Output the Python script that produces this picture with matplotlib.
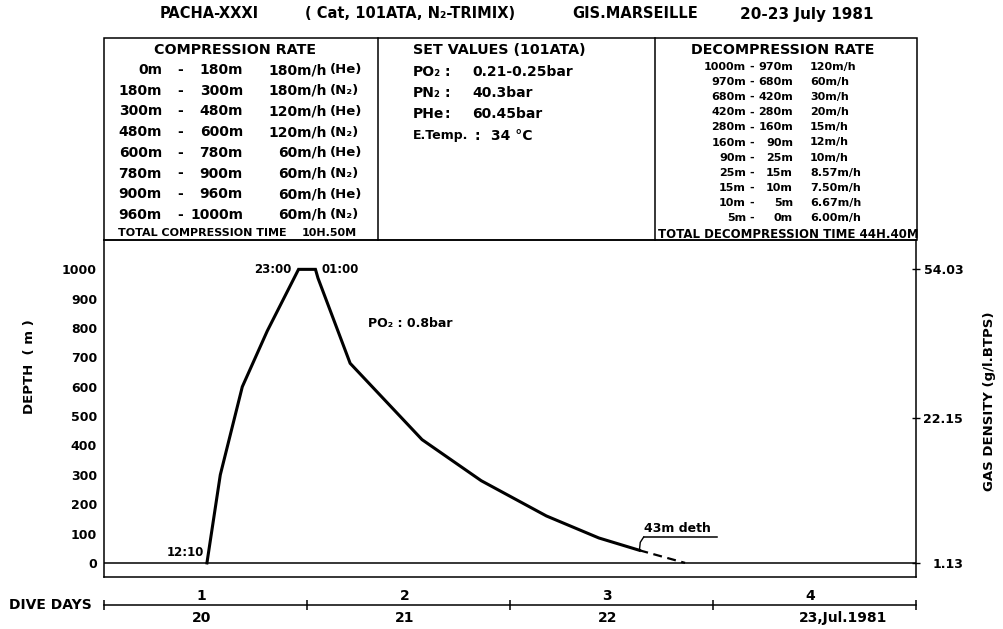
import matplotlib
matplotlib.use('Agg')
import matplotlib.pyplot as plt
from matplotlib.patches import Rectangle

plt.rcParams['font.family'] = ['DejaVu Sans']
plt.rcParams['font.weight'] = 'bold'

# ---- dive profile (hours from 00:00, 20 July) ----
profile_hours = [12.17, 13.75, 16.35, 19.3, 23.0, 25.0, 25.3, 29.1, 37.6, 44.6, 52.3, 58.5, 63.3]
profile_depth = [0, 300, 600, 790, 1000, 1000, 970, 680, 420, 280, 160, 85, 43]
final_hours = [63.3, 68.7]
final_depth = [43, 0]

depth_ticks = [0, 100, 200, 300, 400, 500, 600, 700, 800, 900, 1000]
density_pos = [1000, 495, 0]
density_labels = ['54.03', '22.15', '1.13']

day_edges = [0, 24, 48, 72, 96]
day_numbers = ['1', '2', '3', '4']
day_dates = ['20', '21', '22', '23,Jul.1981']

# ---- table contents ----
comp_from = ['0m', '180m', '300m', '480m', '600m', '780m', '900m', '960m']
comp_to = ['180m', '300m', '480m', '600m', '780m', '900m', '960m', '1000m']
comp_rate = ['180m/h', '180m/h', '120m/h', '120m/h', '60m/h', '60m/h', '60m/h', '60m/h']
comp_gas = ['(He)', '(N₂)', '(He)', '(N₂)', '(He)', '(N₂)', '(He)', '(N₂)']
comp_total = '10H.50M'

set_names = ['PO₂', 'PN₂', 'PHe', 'E.Temp.']
set_values = ['0.21-0.25bar', '40.3bar', '60.45bar', '34 °C']

deco_from = ['1000m', '970m', '680m', '420m', '280m', '160m', '90m', '25m', '15m', '10m', '5m']
deco_to = ['970m', '680m', '420m', '280m', '160m', '90m', '25m', '15m', '10m', '5m', '0m']
deco_rate = ['120m/h', '60m/h', '30m/h', '20m/h', '15m/h', '12m/h', '10m/h',
             '8.57m/h', '7.50m/h', '6.67m/h', '6.00m/h']
deco_total = '44H.40M'

W, H = 1004, 629
fig = plt.figure(figsize=(W / 100, H / 100), dpi=100)

# overlay in pixel coordinates for header / table
ax_px = fig.add_axes([0, 0, 1, 1])
ax_px.set_xlim(0, W)
ax_px.set_ylim(H, 0)
ax_px.axis('off')

# header
ax_px.text(160, 14, 'PACHA-XXXI', fontsize=10.5, va='center')
ax_px.text(305, 14, '( Cat, 101ATA, N₂-TRIMIX)', fontsize=10.5, va='center')
ax_px.text(572, 14, 'GIS.MARSEILLE', fontsize=10.5, va='center')
ax_px.text(740, 14, '20-23 July 1981', fontsize=11, va='center')

# table frame
ax_px.add_patch(Rectangle((104, 38), 813, 202, fill=False, lw=1.1, ec='black'))
ax_px.plot([378, 378], [38, 240], color='black', lw=1.1)
ax_px.plot([655, 655], [38, 240], color='black', lw=1.1)

# compression column
ax_px.text(235, 50.5, 'COMPRESSION RATE', fontsize=10.3, ha='center', va='center')
for i in range(len(comp_from)):
    y = 70 + i * 20.7
    ax_px.text(162, y, comp_from[i], fontsize=10, ha='right', va='center')
    ax_px.text(180, y, '-', fontsize=10, ha='center', va='center')
    ax_px.text(243, y, comp_to[i], fontsize=10, ha='right', va='center')
    ax_px.text(327, y, comp_rate[i], fontsize=10, ha='right', va='center')
    ax_px.text(330, y, comp_gas[i], fontsize=9.5, ha='left', va='center')
ax_px.text(118, 233, 'TOTAL COMPRESSION TIME', fontsize=8, va='center')
ax_px.text(302, 233, comp_total, fontsize=8, va='center')

# set values column
ax_px.text(413, 50, 'SET VALUES (101ATA)', fontsize=10.3, va='center')
name_size = [10, 10, 10, 9]
colon_x = [447, 447, 447, 477]
value_x = [472, 472, 472, 491]
for i in range(len(set_names)):
    y = 71.7 + i * 21.3
    ax_px.text(413, y, set_names[i], fontsize=name_size[i], va='center')
    ax_px.text(colon_x[i], y, ':', fontsize=10, ha='center', va='center')
    ax_px.text(value_x[i], y, set_values[i], fontsize=10, va='center')

# decompression column
ax_px.text(783, 50.5, 'DECOMPRESSION RATE', fontsize=10.3, ha='center', va='center')
for i in range(len(deco_from)):
    y = 67 + i * 15.1
    ax_px.text(746, y, deco_from[i], fontsize=8, ha='right', va='center')
    ax_px.text(752, y, '-', fontsize=8, ha='center', va='center')
    ax_px.text(793, y, deco_to[i], fontsize=8, ha='right', va='center')
    ax_px.text(810, y, deco_rate[i], fontsize=8, ha='left', va='center')
ax_px.text(658, 235, 'TOTAL DECOMPRESSION TIME ' + deco_total, fontsize=8.5, va='center')

# axis titles / dive days label
ax_px.text(30, 367, 'DEPTH  ( m )', fontsize=9.5, rotation=90, ha='center', va='center')
ax_px.text(990, 401, 'GAS DENSITY (g/l.BTPS)', fontsize=9.5, rotation=90, ha='center', va='center')
ax_px.text(9, 605, 'DIVE DAYS', fontsize=10, va='center')

# ---- main profile axes ----
left, right, top, bottom = 104, 916, 240, 577
ax = fig.add_axes([left / W, 1 - bottom / H, (right - left) / W, (bottom - top) / H])
ax.set_facecolor('none')
ax.set_xlim(0, 96)
ax.set_ylim(-48, 1100)
for s in ax.spines.values():
    s.set_linewidth(1.1)
ax.set_xticks([])
ax.set_yticks(depth_ticks)
ax.tick_params(axis='y', length=0, pad=5, labelsize=9)

ax.axhline(0, color='black', lw=1.1)
ax.plot(profile_hours, profile_depth, color='black', lw=2.2, solid_joinstyle='miter')
ax.plot(final_hours, final_depth, color='black', lw=1.6, ls=(0, (4, 2.5)))

ax.text(11.8, 37, '12:10', fontsize=8.5, ha='right', va='center')
ax.text(22.2, 1000, '23:00', fontsize=8.5, ha='right', va='center')
ax.text(25.7, 1000, '01:00', fontsize=8.5, ha='left', va='center')
ax.text(31.2, 814, 'PO₂ : 0.8bar', fontsize=9, ha='left', va='center')

ax.plot([final_hours[0], 63.4, 63.8], [final_depth[0], 70, 88], color='black', lw=1)
ax.plot([63.8, 72.5], [88, 88], color='black', lw=1.1)
ax.text(63.8, 95, '43m deth', fontsize=9, ha='left', va='bottom')

# right density axis
ax2 = ax.twinx()
ax2.set_ylim(ax.get_ylim())
ax2.set_yticks(density_pos)
ax2.set_yticklabels(density_labels)
ax2.tick_params(axis='y', direction='inout', length=6, width=1, pad=31, labelsize=9)
for lab in ax2.get_yticklabels():
    lab.set_horizontalalignment('right')
for s in ax2.spines.values():
    s.set_visible(False)

# ---- dive days axis ----
ax_d = fig.add_axes([left / W, 0, (right - left) / W, (H - bottom) / H])
ax_d.set_xlim(0, 96)
ax_d.set_ylim(H, bottom)
ax_d.axis('off')
ax_d.plot([day_edges[0], day_edges[-1]], [605, 605], color='black', lw=1.1, clip_on=False)
ax_d.vlines(day_edges, 600, 610, color='black', lw=1.1, clip_on=False)
for i in range(len(day_numbers)):
    xc = (day_edges[i] + day_edges[i + 1]) / 2 - 0.5
    ax_d.text(xc, 596, day_numbers[i], fontsize=10, ha='center', va='center')
    if i == len(day_numbers) - 1:
        ax_d.text(xc - 1.3, 618, day_dates[i], fontsize=10, ha='left', va='center')
    else:
        ax_d.text(xc, 618, day_dates[i], fontsize=10, ha='center', va='center')

fig.savefig('out.png', dpi=100)
